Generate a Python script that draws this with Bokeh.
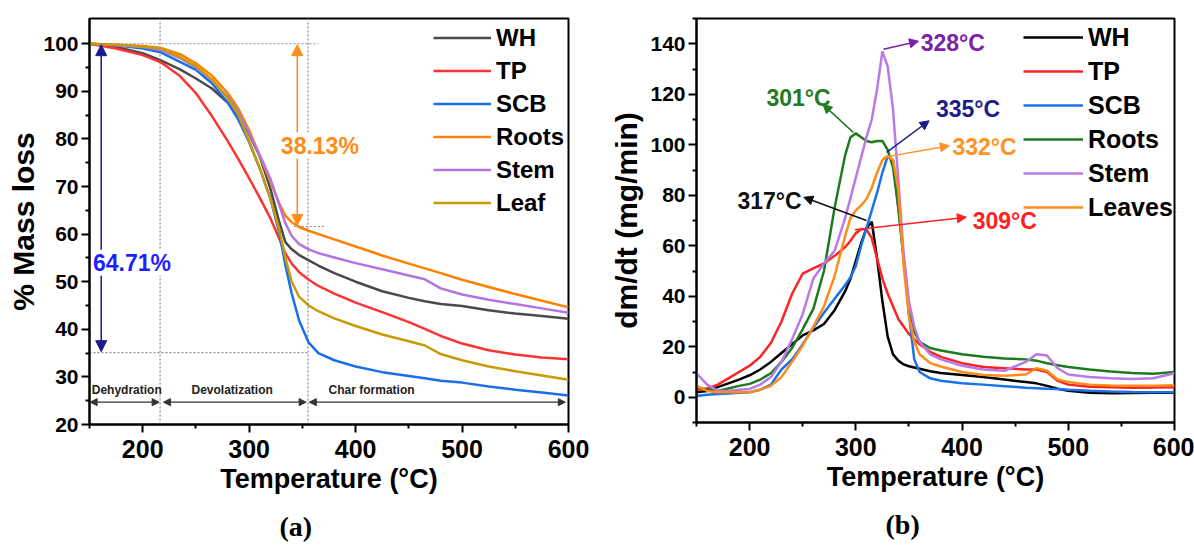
from bokeh.plotting import figure
from bokeh.layouts import row
from bokeh.models import Legend, LegendItem, Arrow, NormalHead, Label, FixedTicker, Title
from bokeh.embed import file_html
from bokeh.resources import INLINE

FONT = "Liberation Sans"

# ---------------- data: (a) TGA ----------------
T_tga = [150, 175, 200, 217, 235, 250, 265, 280, 290, 300, 310, 320, 328, 334, 340,
         347, 356, 365, 380, 400, 425, 450, 465, 480, 500, 525, 550, 575, 600]
tga_WH = [100, 99.3, 98.0, 96.5, 94.6, 92.7, 90.6, 87.6, 84.9, 81.0, 76.3, 69.5, 62.8, 58.3, 56.8,
          55.6, 54.5, 53.4, 51.8, 50.0, 48.0, 46.6, 45.9, 45.3, 44.9, 44.0, 43.3, 42.8, 42.2]
tga_TP = [100, 99.0, 97.6, 96.1, 93.2, 89.6, 84.8, 79.5, 75.7, 71.7, 67.6, 63.3, 59.2, 56.0, 53.8,
          52.0, 50.4, 49.1, 47.5, 45.6, 43.6, 41.5, 40.1, 38.6, 37.0, 35.6, 34.7, 34.1, 33.7]
tga_SCB = [100, 99.7, 99.0, 98.2, 96.2, 94.5, 91.7, 87.6, 84.0, 79.3, 73.8, 67.4, 60.5, 53.5, 47.5,
           41.8, 37.2, 35.0, 33.5, 32.2, 31.0, 30.2, 29.7, 29.2, 28.8, 28.0, 27.3, 26.7, 26.1]
tga_Roots = [100, 99.8, 99.5, 99.1, 97.8, 95.9, 93.3, 89.6, 86.3, 81.8, 76.4, 71.0, 66.6, 63.9, 62.5,
             61.5, 60.7, 60.0, 58.9, 57.4, 55.5, 53.8, 52.8, 51.8, 50.4, 48.9, 47.4, 46.0, 44.6]
tga_Stem = [100, 99.7, 99.3, 98.7, 97.0, 95.0, 92.3, 88.8, 85.6, 81.2, 76.6, 71.6, 66.3, 62.3, 59.6,
            57.9, 56.8, 56.0, 55.1, 53.9, 52.6, 51.3, 50.5, 48.6, 47.3, 46.2, 45.3, 44.4, 43.5]
tga_Leaf = [100, 99.8, 99.4, 99.0, 97.2, 95.3, 92.5, 88.5, 85.0, 79.5, 73.8, 67.4, 61.2, 55.0, 50.0,
            46.8, 45.0, 43.8, 42.3, 40.7, 38.9, 37.5, 36.6, 34.8, 33.5, 32.2, 31.2, 30.3, 29.4]
tga_names = ["WH", "TP", "SCB", "Roots", "Stem", "Leaf"]

# ---------------- data: (b) DTG ----------------
T_dtg = [150, 160, 170, 180, 190, 200, 210, 220, 230, 240, 250, 260, 270, 280, 290,
         295, 300, 305, 310, 315, 320, 325, 330, 335, 340, 345, 350, 355, 360,
         370, 380, 400, 420, 440, 460, 470, 480, 490, 500, 520, 540, 560, 580, 600]
dtg_WH = [2, 2.5, 4, 5.5, 7, 8.7, 11, 14, 17.5, 21, 24.5, 26.5, 29, 34.5, 42,
          47, 54, 61, 67, 69.5, 55, 38, 24, 17, 14.5, 13, 12.3, 11.8, 11.3,
          10.3, 9.6, 8.8, 8, 7, 6, 5.5, 4.5, 3.4, 2.6, 1.8, 1.6, 1.7, 1.8, 1.8]
dtg_TP = [3, 3.5, 5, 7.5, 10, 12.5, 16, 21.5, 30, 41, 49, 51, 53, 56, 59.5,
          62, 65, 66.5, 66.5, 63, 55, 47, 41, 36, 31, 28, 25, 23, 21,
          18, 16, 13.5, 12, 11.5, 11, 11, 10, 6.5, 5, 4.2, 4, 3.8, 3.9, 4]
dtg_SCB = [0.5, 1, 1.3, 1.5, 1.8, 2, 3, 5, 11, 15, 21, 27.5, 33.5, 39, 44.5,
           47.5, 52, 60, 67, 74, 81, 89, 95.5, 94, 75, 55, 33, 15, 10,
           7.5, 6.5, 5.5, 5, 4.4, 3.8, 3.6, 3.4, 3.3, 3, 2.6, 2.3, 2.1, 2, 2]
dtg_Roots = [4, 3, 2.5, 3.5, 4.5, 5.3, 7, 9.5, 14, 19.5, 27, 35, 50, 75, 96,
             103, 104.5, 103, 101.5, 101, 101.5, 101.5, 98, 91, 75, 55, 36, 26, 22,
             19.5, 18.5, 17, 16, 15.3, 15, 14.5, 13.5, 12.7, 12, 11, 10.2, 9.6, 9.3, 10]
dtg_Stem = [9.5, 5, 2.5, 2.5, 3, 3.3, 5, 8, 14, 23, 33, 47, 53, 58, 71,
            79, 87, 95, 103, 110, 122, 137, 131, 114, 86, 57, 38, 28, 22,
            17, 15, 12.5, 11, 10.5, 14, 17, 16.5, 11.5, 9, 8, 7.5, 7.2, 7.5, 9.5]
dtg_Leaves = [4.5, 2.5, 2, 2, 2, 2, 3, 4.5, 8, 14, 20.5, 28, 36, 48, 64,
              71, 74, 76, 78.5, 83, 89, 94, 95.5, 94, 82, 52, 32, 22, 17,
              13.5, 12.2, 10, 8.8, 8.5, 9, 11.5, 10.5, 7, 6, 5, 4.7, 4.6, 4.6, 4.8]
dtg_names = ["WH", "TP", "SCB", "Roots", "Stem", "Leaves"]

x_major = [200, 300, 400, 500, 600]
x_minor = [150, 250, 350, 450, 550]
tga_y_major = [20, 30, 40, 50, 60, 70, 80, 90, 100]
tga_y_minor = [25, 35, 45, 55, 65, 75, 85, 95]
dtg_y_major = [0, 20, 40, 60, 80, 100, 120, 140]
dtg_y_minor = [-10, 10, 30, 50, 70, 90, 110, 130, 150]

tga_colors = ["#4a4a4a", "#ff3333", "#1a6fe8", "#ff8000", "#b373e0", "#c89b06"]
dtg_colors = ["#000000", "#ff2222", "#1a72e6", "#1e7a1e", "#b87ae6", "#ff8c1a"]


def style(p, ymaj, ymin):
    p.xgrid.visible = False
    p.ygrid.visible = False
    p.outline_line_color = "black"
    p.outline_line_width = 2
    p.xaxis.ticker = FixedTicker(ticks=x_major, minor_ticks=x_minor)
    p.yaxis.ticker = FixedTicker(ticks=ymaj, minor_ticks=ymin)
    for ax in (p.xaxis[0], p.yaxis[0]):
        ax.axis_line_width = 2
        ax.major_tick_line_width = 2
        ax.minor_tick_line_width = 2
        ax.major_tick_out = 8
        ax.major_tick_in = 0
        ax.minor_tick_out = 4
        ax.minor_tick_in = 0
        ax.major_label_text_font = FONT
        ax.major_label_text_font_style = "bold"
        ax.major_label_text_color = "black"
        ax.axis_label_text_font = FONT
        ax.axis_label_text_font_style = "bold"
        ax.axis_label_text_color = "black"
    p.xaxis.major_label_text_font_size = "25px"
    p.yaxis.major_label_text_font_size = "21px"
    p.xaxis.axis_label_text_font_size = "27px"
    p.yaxis.axis_label_text_font_size = "30px"
    p.xaxis.major_label_standoff = 7
    p.yaxis.major_label_standoff = 3
    p.xaxis.axis_label_standoff = 3
    p.xaxis.axis_label = "Temperature (°C)"


def make_legend(p, renderers, names, x, y, gw, lh, standoff, fs):
    items = [LegendItem(label=n, renderers=[r]) for n, r in zip(names, renderers)]
    lg = Legend(items=items, location=(x, y))
    lg.border_line_color = None
    lg.background_fill_alpha = 0
    lg.padding = 0
    lg.margin = 0
    lg.spacing = 0
    lg.glyph_width = gw
    lg.glyph_height = lh
    lg.label_height = lh
    lg.label_standoff = standoff
    lg.label_text_font = FONT
    lg.label_text_font_style = "bold"
    lg.label_text_font_size = fs
    lg.label_text_color = "black"
    p.add_layout(lg)


def arrow(p, x0, y0, x1, y1, color, both=False, size=10, width=1.5):
    head = NormalHead(size=size, fill_color=color, line_color=color, line_width=1)
    start = NormalHead(size=size, fill_color=color, line_color=color, line_width=1) if both else None
    p.add_layout(Arrow(x_start=x0, y_start=y0, x_end=x1, y_end=y1, end=head, start=start,
                       line_color=color, line_width=width))


def label(p, x, y, text, color, size, align="left", bg=None):
    p.add_layout(Label(x=x, y=y, text=text, text_color=color, text_font=FONT,
                       text_font_size=size, text_font_style="bold", text_align=align,
                       text_baseline="middle", background_fill_color=bg))


# ================= (a) =================
p1 = figure(frame_width=479, frame_height=406, min_border_left=89, min_border_right=29,
            min_border_top=16, min_border_bottom=127, x_range=(150, 600), y_range=(20, 105.3),
            output_backend="svg", toolbar_location=None)
style(p1, tga_y_major, tga_y_minor)
p1.yaxis.axis_label = "% Mass loss"
p1.yaxis.axis_label_standoff = 0

# dotted guide lines
guide = dict(line_color="#8c8c8c", line_width=1.2, line_dash="2 2")
p1.segment(x0=[150, 216.3, 355.3, 150, 342], y0=[100, 20, 20, 35.1, 61.6],
           x1=[365, 216.3, 355.3, 355.3, 372], y1=[100, 105.3, 105.3, 35.1, 61.6], **guide)

tga_series = [tga_WH, tga_TP, tga_SCB, tga_Roots, tga_Stem, tga_Leaf]
r1 = []
for ys, c in zip(tga_series, tga_colors):
    r1.append(p1.line(T_tga, ys, line_color=c, line_width=2.5))
make_legend(p1, r1, tga_names, 344, 205, 58, 33, 5, "24px")

arrow(p1, 161, 35.3, 161, 99.8, "#1a1a8c", both=True, size=11)
label(p1, 153.3, 54, "64.71%", "#1f1fff", "23px", bg="white")
arrow(p1, 345.2, 61.8, 345.2, 99.8, "#ff8c1a", both=True, size=11)
label(p1, 366.4, 78.6, "38.13%", "#ff8c1a", "23px", align="center", bg="white")

# phase arrows and labels
arrow(p1, 150.6, 24.7, 215.4, 24.7, "#333333", both=True, size=7, width=1.3)
arrow(p1, 219.5, 24.7, 353.5, 24.7, "#333333", both=True, size=7, width=1.3)
arrow(p1, 356.5, 24.7, 597, 24.7, "#333333", both=True, size=7, width=1.3)
label(p1, 185, 27.3, "Dehydration", "#222222", "12px", align="center")
label(p1, 284, 27.3, "Devolatization", "#222222", "12px", align="center")
label(p1, 415, 27.3, "Char formation", "#222222", "12px", align="center")

p1.add_layout(Title(text="(a)", align="left", offset=190, standoff=24, text_color="black",
                    text_font="Liberation Serif", text_font_size="28px", text_font_style="bold"),
              "below")

# ================= (b) =================
p2 = figure(frame_width=478, frame_height=404, min_border_left=99, min_border_right=20,
            min_border_top=18, min_border_bottom=127, x_range=(150, 600), y_range=(-10, 150),
            output_backend="svg", toolbar_location=None)
style(p2, dtg_y_major, dtg_y_minor)
p2.yaxis.axis_label = "dm/dt (mg/min)"
p2.yaxis.axis_label_standoff = 4

dtg_series = [dtg_WH, dtg_TP, dtg_SCB, dtg_Roots, dtg_Stem, dtg_Leaves]
r2 = []
for ys, c in zip(dtg_series, dtg_colors):
    r2.append(p2.line(T_dtg, ys, line_color=c, line_width=2.5))
make_legend(p2, r2, dtg_names, 327, 198, 60, 34, 5, "25px")

peak_notes = [
    ("328°C", "#7b22a8", 326, 137.8, 359, 141.0, 361, 140.4, "left"),
    ("301°C", "#237a23", 297.6, 104.9, 269, 116.0, 246, 118.7, "center"),
    ("335°C", "#1c1c8c", 329, 97.0, 369, 109.5, 375.4, 114.0, "left"),
    ("332°C", "#ff9326", 325.7, 95.0, 388, 99.6, 391, 99.0, "left"),
    ("317°C", "#111111", 310, 70.0, 251, 79.2, 249, 77.9, "right"),
    ("309°C", "#ff2020", 299, 66.3, 404, 71.3, 410, 70.0, "left"),
]
for txt, c, xs, ys_, xe, ye, tx, ty, al in peak_notes:
    arrow(p2, xs, ys_, xe, ye, c, size=9, width=1.5)
    label(p2, tx, ty, txt, c, "23px", align=al)

p2.add_layout(Title(text="(b)", align="left", offset=189, standoff=24, text_color="black",
                    text_font="Liberation Serif", text_font_size="28px", text_font_style="bold"),
              "below")

layout = row(p1, p2)
open("out.html", "w").write(file_html(layout, INLINE))
